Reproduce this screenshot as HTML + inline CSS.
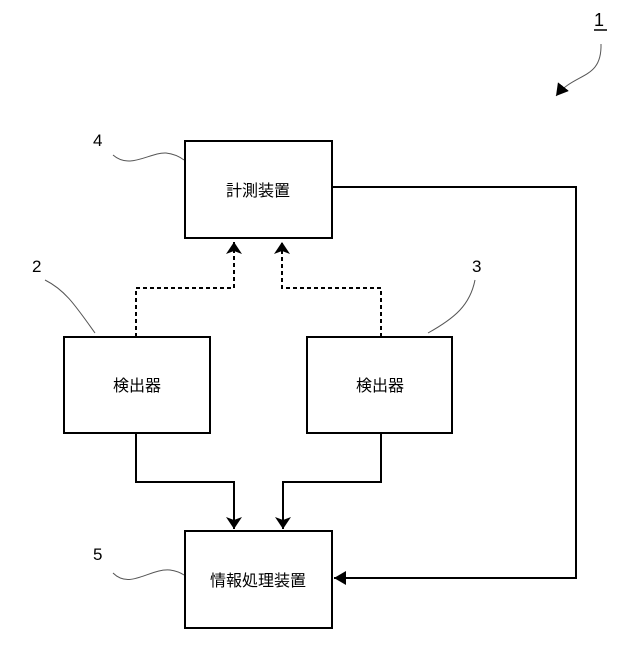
<!DOCTYPE html>
<html><head><meta charset="utf-8"><style>
body{margin:0;background:#fff}
svg text{font-family:"Liberation Sans","Noto Sans CJK JP",sans-serif;fill:#000}
</style></head><body>
<svg width="640" height="640" viewBox="0 0 640 640" xmlns="http://www.w3.org/2000/svg">
<defs>
<marker id="a" markerWidth="12" markerHeight="16" refX="12" refY="8" orient="auto" markerUnits="userSpaceOnUse"><path d="M0,0 L12,8 L0,16 L3,8 Z" fill="#000"/></marker>
<marker id="b" markerWidth="12" markerHeight="14" refX="12" refY="7" orient="auto" markerUnits="userSpaceOnUse"><path d="M0,0 L12,7 L0,14 Z" fill="#000"/></marker>
</defs>
<g fill="none" stroke="#000" stroke-width="2">
<rect x="185" y="141" width="147" height="97"/>
<rect x="64" y="337" width="146" height="96"/>
<rect x="307" y="337" width="145" height="96"/>
<rect x="185" y="531" width="147" height="97"/>
<g stroke-dasharray="4,3">
<path d="M136,337 V288 H234 V242" marker-end="url(#a)"/>
<path d="M381,337 V288 H282 V242" marker-end="url(#a)"/>
</g>
<path d="M136,433 V482 H234 V529" marker-end="url(#a)"/>
<path d="M381,433 V482 H283 V529" marker-end="url(#a)"/>
<path d="M332,187 H576 V578 H334" marker-end="url(#b)"/>
</g>
<g fill="none" stroke="#555" stroke-width="1">
<path d="M601,44 C602,80 575,72 556,96" marker-end="url(#b)"/>
<path d="M113,155 C130,170 150,152 166,153 C175,154 180,157 184,160"/>
<path d="M45,280 C65,290 75,305 95,333"/>
<path d="M475,280 C470,305 455,318 428,333"/>
<path d="M113,573 C130,590 150,568 170,570 C177,571 181,573 184,575"/>
</g>
<text x="594" y="26" font-size="18">1</text>
<line x1="594" y1="30" x2="607" y2="30" stroke="#000" stroke-width="1.5"/>
<text x="93" y="146" font-size="17">4</text>
<text x="32" y="272" font-size="17">2</text>
<text x="472" y="272" font-size="17">3</text>
<text x="93" y="560" font-size="17">5</text>
<text x="258" y="196" font-size="16" text-anchor="middle">計測装置</text>
<text x="137" y="391" font-size="16" text-anchor="middle">検出器</text>
<text x="380" y="391" font-size="16" text-anchor="middle">検出器</text>
<text x="258" y="586" font-size="16" text-anchor="middle">情報処理装置</text>
</svg>
</body></html>
